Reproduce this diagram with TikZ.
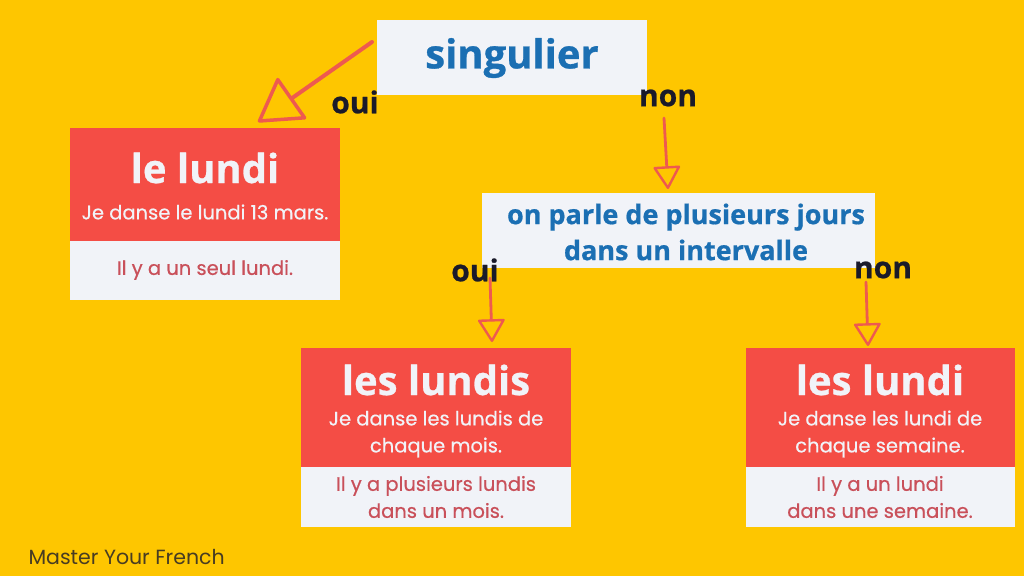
\documentclass[tikz,border=0pt]{standalone}
\usepackage{fontspec}
\setmainfont{Poppins}
\newfontfamily\pmed{Poppins}[FakeBold=0.5]
\newfontfamily\osans{Open Sans}[BoldFeatures={FakeBold=0.7}]
\usetikzlibrary{arrows.meta}
\definecolor{bgyellow}{HTML}{FEC600}
\definecolor{boxred}{HTML}{F44D45}
\definecolor{boxwhite}{HTML}{F1F3F8}
\definecolor{tblue}{HTML}{1B6FB3}
\definecolor{tred}{HTML}{C9505A}
\definecolor{arred}{HTML}{EE5A4F}
\definecolor{tdark}{HTML}{1A1A2A}
\tikzset{
  redpart/.style={fill=boxred, draw=none, anchor=north west, inner sep=0pt},
  whitepart/.style={fill=boxwhite, draw=none, anchor=north west, inner sep=0pt},
  titletxt/.style={text=boxwhite, font=\osans\bfseries\fontsize{40}{44}\selectfont},
  bodytxt/.style={text=boxwhite, font=\pmed\fontsize{19.5}{27}\selectfont, align=center},
  notetxt/.style={text=tred, font=\pmed\fontsize{19.5}{27}\selectfont, align=center},
  questxt/.style={text=tblue, font=\osans\bfseries, align=center},
  answer/.style={text=tdark, font=\osans\bfseries\fontsize{30}{32}\selectfont},
  arr/.style={draw=arred, line width=2.8pt, line cap=round,
    -{Triangle[open, length=24pt, width=28pt, line width=2.4pt, round]}},
  bigarr/.style={draw=arred, line width=4pt, line cap=round,
    -{Triangle[open, length=44pt, width=52pt, line width=3.5pt, round]}},
}
\begin{document}
\begin{tikzpicture}[x=1pt,y=-1pt]
\fill[bgyellow] (0,0) rectangle (1024,576);
\useasboundingbox (0,0) rectangle (1024,576);

% question boxes
\node[whitepart, minimum width=270pt, minimum height=75pt] (q1) at (377,20) {};
\node[questxt, font=\osans\bfseries\fontsize{40}{44}\selectfont] (q1t) at (512,58) {singulier};
\node[whitepart, minimum width=393pt, minimum height=75pt] (q2) at (482,193) {};
\node[questxt, font=\osans\bfseries\fontsize{27}{36}\selectfont] (q2t) at (686,232) {on parle de plusieurs jours\\dans un intervalle};

% le lundi
\node[redpart, minimum width=270pt, minimum height=113pt] (a1) at (70,128) {};
\node[whitepart, minimum width=270pt, minimum height=59pt] (a1n) at (70,241) {};
\node[titletxt] (a1t) at (205,168) {le lundi};
\node[bodytxt] (a1b) at (205,212) {Je danse le lundi 13 mars.};
\node[notetxt] (a1c) at (205,270) {Il y a un seul lundi.};

% les lundis
\node[redpart, minimum width=270pt, minimum height=119pt] (b1) at (301,348) {};
\node[whitepart, minimum width=270pt, minimum height=60pt] (b1n) at (301,467) {};
\node[titletxt] (b1t) at (436,380) {les lundis};
\node[bodytxt] (b1b) at (436,434) {Je danse les lundis de\\chaque mois.};
\node[notetxt] (b1c) at (436,497) {Il y a plusieurs lundis\\dans un mois.};

% les lundi
\node[redpart, minimum width=269pt, minimum height=119pt] (c1) at (746,348) {};
\node[whitepart, minimum width=269pt, minimum height=60pt] (c1n) at (746,467) {};
\node[titletxt] (c1t) at (880,380) {les lundi};
\node[bodytxt] (c1b) at (880,434) {Je danse les lundi de\\chaque semaine.};
\node[notetxt] (c1c) at (880,497) {Il y a un lundi\\dans une semaine.};

% answers
\node[answer] (o1) at (355,102) {oui};
\node[answer] (n1) at (668,98) {non};
\node[answer] (o2) at (475,270) {oui};
\node[answer] (n2) at (883,270) {non};

% arrows
\coordinate (s1) at (372,42);
\coordinate (e1) at (258,122);
\draw[bigarr] (s1) -- (e1);
\coordinate (s2) at (664,118);
\coordinate (e2) at (668,189);
\draw[arr] (s2) -- (e2);
\coordinate (s3) at (490,278);
\coordinate (e3) at (492,342);
\draw[arr] (s3) -- (e3);
\coordinate (s4) at (866,282);
\coordinate (e4) at (868,346);
\draw[arr] (s4) -- (e4);

\node[text=tdark!80!bgyellow, font=\fontsize{20.5}{24}\selectfont, anchor=west] (brand) at (25,557) {Master Your French};
\end{tikzpicture}
\end{document}
